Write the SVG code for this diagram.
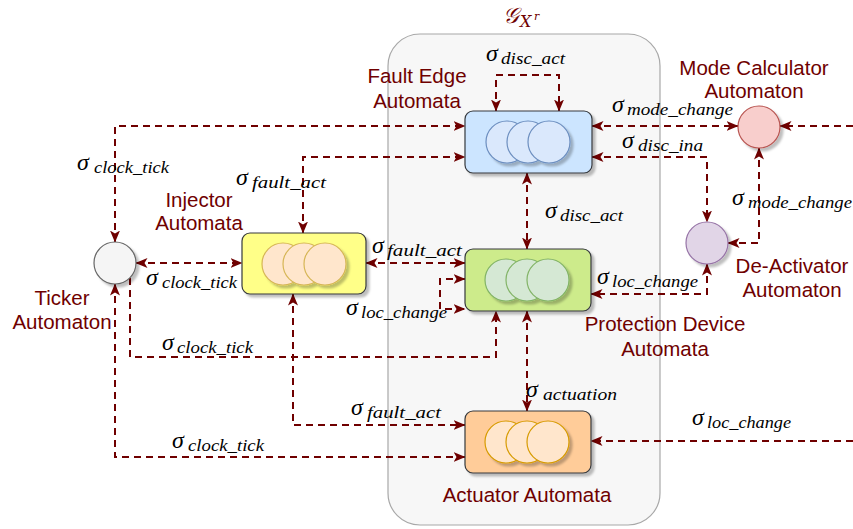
<svg xmlns="http://www.w3.org/2000/svg" width="853" height="529" viewBox="0 0 853 529">
  <style>
    .conn { fill: none; stroke: #6f0000; stroke-width: 2; stroke-dasharray: 7 5; }
    .both { marker-start: url(#arr); marker-end: url(#arr); }
    .end { marker-end: url(#arr); }
    .box { stroke: #36393d; stroke-width: 1.2; filter: url(#shadow); }
    .st { stroke-width: 1.2; filter: url(#shadow); }
    .name { font-family: "Liberation Sans", Arial, sans-serif; font-size: 20.5px; fill: #6f0000; text-anchor: middle; }
    .sg { font-family: "Liberation Serif", "DejaVu Serif", serif; font-style: italic; font-size: 24px; fill: #000; }
    .sb { font-family: "Liberation Serif", "DejaVu Serif", serif; font-style: italic; font-size: 17px; fill: #000; }
    .ttl { font-family: "DejaVu Serif", "Liberation Serif", serif; fill: #6f0000; }
  </style>
  <defs>
    <marker id="arr" viewBox="0 0 12 10" refX="11.5" refY="5" markerWidth="12" markerHeight="10" markerUnits="userSpaceOnUse" orient="auto-start-reverse">
      <path d="M0,0 L12,5 L0,10 L3,5 Z" fill="#6f0000"/>
    </marker>
    <filter id="shadow" x="-20%" y="-20%" width="150%" height="150%">
      <feDropShadow dx="3" dy="3" stdDeviation="1.2" flood-color="#000" flood-opacity="0.25"/>
    </filter>
  </defs>

  <!-- container of the grid automata -->
  <g id="container">
    <rect x="388" y="34" width="272" height="491" rx="32" fill="#f7f7f7" stroke="#a8a8a8" stroke-width="1.2"/>
    <text class="ttl" x="503" y="23" font-size="22" font-style="italic">𝒢</text>
    <text class="ttl" x="520" y="27" font-size="16" font-style="italic">X</text>
    <text class="ttl" x="534" y="20" font-size="11" font-style="italic">r</text>
  </g>

  <!-- connectors -->
  <g id="connectors">
    <path class="conn both" d="M496,111 V75 H559 V111"/>
    <path class="conn both" d="M115,242 V126 H465"/>
    <path class="conn both" d="M303,233 V157 H465"/>
    <path class="conn both" d="M136,263 H242"/>
    <path class="conn both" d="M366,263 H465"/>
    <path class="conn both" d="M465,279 H440 V309 H465"/>
    <path class="conn end" d="M130,278 V357 H496 V311"/>
    <path class="conn both" d="M115,284 V457 H465"/>
    <path class="conn both" d="M293,294 V425 H465"/>
    <path class="conn both" d="M527,311 V411"/>
    <path class="conn both" d="M527,173 V249"/>
    <path class="conn both" d="M592,126 H738"/>
    <path class="conn end" d="M853,126 H780"/>
    <path class="conn both" d="M592,157 H707 V222"/>
    <path class="conn both" d="M759,148 V243 H728"/>
    <path class="conn both" d="M707,264 V294 H591"/>
    <path class="conn end" d="M853,441 H591"/>
  </g>

  <!-- Fault Edge Automata -->
  <g id="fault-edge">
    <rect class="box" x="465" y="111" width="127" height="62" rx="8" fill="#cce5ff"/>
    <g fill="#dae8fc" stroke="#6c8ebf" class="st">
      <circle cx="507" cy="142" r="21"/>
      <circle cx="528" cy="142" r="21"/>
      <circle cx="549" cy="142" r="21"/>
    </g>
    <text class="name" x="417" y="83">Fault Edge</text>
    <text class="name" x="417" y="108">Automata</text>
  </g>

  <!-- Protection Device Automata -->
  <g id="protection">
    <rect class="box" x="465" y="249" width="126" height="62" rx="8" fill="#cdeb8b"/>
    <g fill="#d5e8d4" stroke="#82b366" class="st">
      <circle cx="506" cy="280" r="21"/>
      <circle cx="527" cy="280" r="21"/>
      <circle cx="548" cy="280" r="21"/>
    </g>
    <text class="name" x="665" y="331">Protection Device</text>
    <text class="name" x="665" y="356">Automata</text>
  </g>

  <!-- Injector Automata -->
  <g id="injector">
    <rect class="box" x="242" y="233" width="124" height="61" rx="8" fill="#ffff88"/>
    <g fill="#ffe6cc" stroke="#d6b656" class="st">
      <circle cx="283" cy="264" r="21"/>
      <circle cx="304" cy="264" r="21"/>
      <circle cx="325" cy="264" r="21"/>
    </g>
    <text class="name" x="199" y="207">Injector</text>
    <text class="name" x="199" y="230">Automata</text>
  </g>

  <!-- Actuator Automata -->
  <g id="actuator">
    <rect class="box" x="465" y="411" width="126" height="62" rx="8" fill="#ffcc99"/>
    <g fill="#ffe6cc" stroke="#d79b00" class="st">
      <circle cx="506" cy="442" r="21"/>
      <circle cx="527" cy="442" r="21"/>
      <circle cx="548" cy="442" r="21"/>
    </g>
    <text class="name" x="527" y="502">Actuator Automata</text>
  </g>

  <!-- Ticker Automaton -->
  <g id="ticker">
    <circle class="st" cx="115" cy="263" r="21" fill="#f5f5f5" stroke="#666666"/>
    <text class="name" x="62" y="305">Ticker</text>
    <text class="name" x="62" y="329">Automaton</text>
  </g>

  <!-- Mode Calculator Automaton -->
  <g id="mode-calculator">
    <circle class="st" cx="759" cy="127" r="21" fill="#f8cecc" stroke="#b85450"/>
    <text class="name" x="754" y="75">Mode Calculator</text>
    <text class="name" x="754" y="98">Automaton</text>
  </g>

  <!-- De-Activator Automaton -->
  <g id="de-activator">
    <circle class="st" cx="707" cy="243" r="21" fill="#e1d5e7" stroke="#9673a6"/>
    <text class="name" x="792" y="273">De-Activator</text>
    <text class="name" x="792" y="297">Automaton</text>
  </g>

  <!-- event labels -->
  <g id="labels">
    <text class="sg" x="486" y="61">σ</text><text class="sb" x="501" y="64" textLength="64" lengthAdjust="spacingAndGlyphs">disc_act</text>
    <text class="sg" x="612" y="112">σ</text><text class="sb" x="627" y="115" textLength="106" lengthAdjust="spacingAndGlyphs">mode_change</text>
    <text class="sg" x="622" y="148">σ</text><text class="sb" x="638" y="151" textLength="65" lengthAdjust="spacingAndGlyphs">disc_ina</text>
    <text class="sg" x="77" y="170">σ</text><text class="sb" x="94" y="173" textLength="75" lengthAdjust="spacingAndGlyphs">clock_tick</text>
    <text class="sg" x="236" y="185">σ</text><text class="sb" x="252" y="188" textLength="74" lengthAdjust="spacingAndGlyphs">fault_act</text>
    <text class="sg" x="545" y="218">σ</text><text class="sb" x="560" y="221" textLength="63" lengthAdjust="spacingAndGlyphs">disc_act</text>
    <text class="sg" x="372" y="253">σ</text><text class="sb" x="387" y="256" textLength="75" lengthAdjust="spacingAndGlyphs">fault_act</text>
    <text class="sg" x="146" y="285">σ</text><text class="sb" x="162" y="288" textLength="75" lengthAdjust="spacingAndGlyphs">clock_tick</text>
    <text class="sg" x="346" y="315">σ</text><text class="sb" x="361" y="318" textLength="86" lengthAdjust="spacingAndGlyphs">loc_change</text>
    <text class="sg" x="597" y="284">σ</text><text class="sb" x="612" y="287" textLength="86" lengthAdjust="spacingAndGlyphs">loc_change</text>
    <text class="sg" x="732" y="205">σ</text><text class="sb" x="748" y="208" textLength="104" lengthAdjust="spacingAndGlyphs">mode_change</text>
    <text class="sg" x="162" y="350">σ</text><text class="sb" x="177" y="353" textLength="76" lengthAdjust="spacingAndGlyphs">clock_tick</text>
    <text class="sg" x="526" y="397">σ</text><text class="sb" x="543" y="400" textLength="74" lengthAdjust="spacingAndGlyphs">actuation</text>
    <text class="sg" x="351" y="415">σ</text><text class="sb" x="367" y="418" textLength="74" lengthAdjust="spacingAndGlyphs">fault_act</text>
    <text class="sg" x="692" y="425">σ</text><text class="sb" x="707" y="428" textLength="84" lengthAdjust="spacingAndGlyphs">loc_change</text>
    <text class="sg" x="172" y="448">σ</text><text class="sb" x="188" y="451" textLength="76" lengthAdjust="spacingAndGlyphs">clock_tick</text>
  </g>
</svg>
